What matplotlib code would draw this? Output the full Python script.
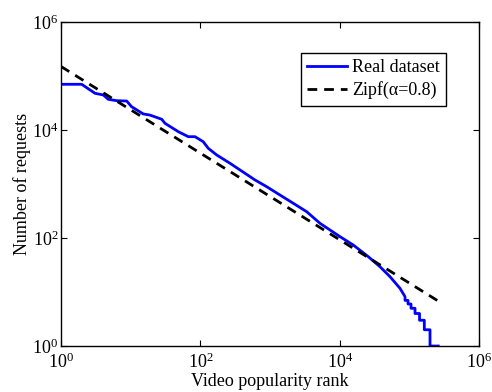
import matplotlib
matplotlib.use("Agg")
import matplotlib.pyplot as plt

plt.rcParams['font.family'] = ['Liberation Serif', 'DejaVu Serif']
plt.rcParams['mathtext.fontset'] = 'stix'
plt.rcParams['font.size'] = 13

# Real dataset: rank vs number of requests
real_rank = [1, 1.98, 3.08, 4.05, 4.77, 6.3, 8.77, 10.3, 15.2, 18.9, 27.9, 31.1,
             48.3, 67.2, 83.8, 110, 130, 172, 267, 610, 896, 1390, 2160, 3360,
             5220, 10100, 15700, 25800, 37900, 52800, 73400, 86700,
             86700, 95700, 95700, 105700, 105700, 120600, 120600, 140000,
             140000, 164000, 164000, 198000, 198000, 260000]
real_requests = [70200, 70200, 47800, 44500, 37000, 34900, 34400, 27000, 19800,
                 18900, 15800, 13300, 9300, 7520, 7520, 6070, 4580, 3440, 2415,
                 1186, 891, 625, 439, 307, 187, 106, 74, 45, 29.4, 19.2, 11.7, 8.2,
                 7, 7, 6, 6, 5, 5, 4, 4,
                 3, 3, 2, 2, 1, 1]

# Zipf fit (alpha = 0.8): endpoints of the straight log-log line
zipf_rank = [1, 260000]
zipf_requests = [150000, 6.8]

fig = plt.figure(figsize=(4.92, 3.92), dpi=100)
ax = fig.add_axes([0.124, 0.1173, 0.8496, 0.8266])

ax.plot(real_rank, real_requests, color=(0, 0, 1), lw=2.0, label='Real dataset')
ax.plot(zipf_rank, zipf_requests, color='black', lw=2.0, linestyle=(0, (3.5, 2.5)),
        label='Zipf(α=0.8)')

ax.set_xscale('log')
ax.set_yscale('log')
ax.set_xlim(1, 1e6)
ax.set_ylim(1, 1e6)
ax.set_xticks([1, 1e2, 1e4, 1e6])
ax.set_yticks([1, 1e2, 1e4, 1e6])
ax.minorticks_off()
ax.tick_params(which='both', direction='in', top=True, right=True, length=4,
               width=0.8, labelsize=13)
ax.tick_params(axis='x', pad=5)
ax.tick_params(axis='y', pad=2)
for s in ax.spines.values():
    s.set_linewidth(1.0)

ax.set_xlabel('Video popularity rank', fontsize=13, labelpad=0.5)
ax.set_ylabel('Number of requests', fontsize=13, labelpad=1)

leg = ax.legend(loc='upper right', bbox_to_anchor=(0.922, 0.905), fontsize=13,
                frameon=True, fancybox=False, edgecolor='black', framealpha=1,
                handlelength=2.2, handletextpad=0.3, borderpad=0.35,
                labelspacing=0.3, borderaxespad=0)
leg.get_frame().set_linewidth(1.0)

fig.savefig('out.png', dpi=100)
